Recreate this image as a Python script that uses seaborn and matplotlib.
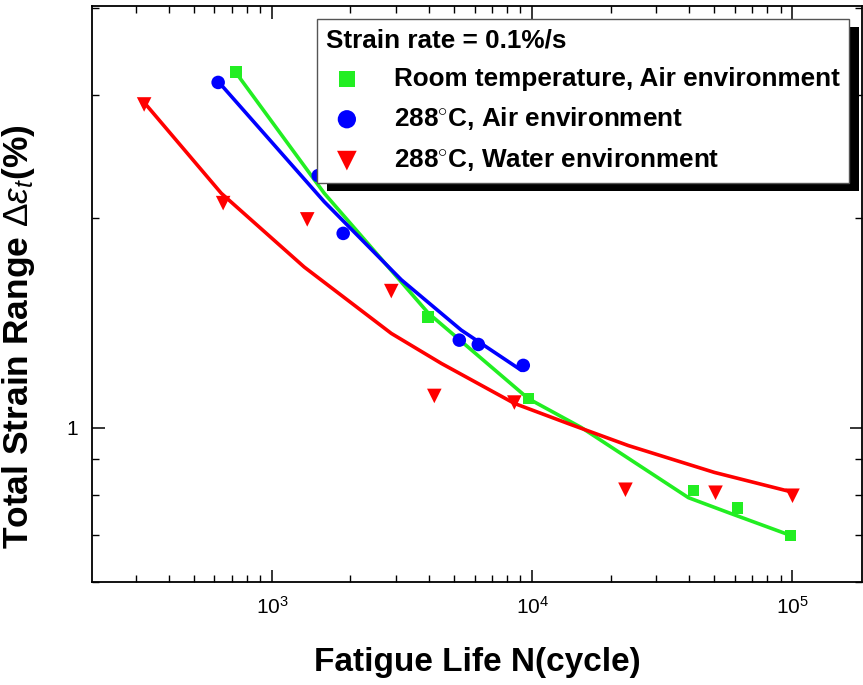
import matplotlib
matplotlib.use("Agg")
import matplotlib.pyplot as plt
import matplotlib.ticker as mticker
from matplotlib.patches import Rectangle
from matplotlib.transforms import IdentityTransform
import seaborn as sns

sns.set_style("ticks")
plt.rcParams['font.family'] = ['Liberation Sans', 'DejaVu Sans']
plt.rcParams['mathtext.fontset'] = 'custom'
plt.rcParams['mathtext.rm'] = 'Liberation Sans'
plt.rcParams['mathtext.it'] = 'Liberation Sans:italic'
plt.rcParams['mathtext.bf'] = 'Liberation Sans:bold'
plt.rcParams['text.color'] = 'black'
plt.rcParams['axes.labelcolor'] = 'black'
plt.rcParams['xtick.color'] = 'black'
plt.rcParams['ytick.color'] = 'black'

rt_air_n = [727, 3981, 9660, 41600, 61400, 98200]
rt_air_eps = [3.24, 1.44, 1.10, 0.812, 0.767, 0.70]

hot_air_n = [620, 1503, 1875, 5240, 6200, 9230]
hot_air_eps = [3.13, 2.30, 1.90, 1.335, 1.316, 1.228]

hot_water_n = [322, 648, 1364, 2870, 4200, 8530, 22800, 50600, 100000]
hot_water_eps = [2.91, 2.10, 1.99, 1.57, 1.11, 1.086, 0.814, 0.806, 0.798]

# fitted curves
rt_fit_n = [727, 1585, 3981, 9660, 15430, 39800, 58200, 98200]
rt_fit_eps = [3.23, 2.17, 1.46, 1.10, 1.00, 0.793, 0.752, 0.70]

air_fit_n = [625, 1585, 3135, 5330, 9080]
air_fit_eps = [3.13, 2.11, 1.63, 1.38, 1.208]

water_fit_n = [322, 637, 1328, 2870, 4470, 8530, 13750, 23400, 50100, 102000]
water_fit_eps = [2.93, 2.17, 1.70, 1.365, 1.236, 1.083, 1.013, 0.942, 0.862, 0.806]

labels = ['Room temperature, Air environment',
          '288$^{\\circ}$C, Air environment',
          '288$^{\\circ}$C, Water environment']
colors = ['#22ee22', '#0000ff', '#ff0000']
markers = ['s', 'o', 'v']
sizes = [70, 95, 110]

points = [(rt_air_n, rt_air_eps), (hot_air_n, hot_air_eps), (hot_water_n, hot_water_eps)]
fits = [(rt_fit_n, rt_fit_eps), (air_fit_n, air_fit_eps), (water_fit_n, water_fit_eps)]

fig = plt.figure(figsize=(8.63, 6.85), dpi=100)
ax = fig.add_axes([92 / 863, 103 / 685, 770 / 863, 576 / 685])

for (fn, fe), c in zip(fits, colors):
    sns.lineplot(x=fn, y=fe, ax=ax, color=c, linewidth=2.6, sort=False,
                 estimator=None, legend=False)

for (pn, pe), c, m, s, lab in zip(points, colors, markers, sizes, labels):
    sns.scatterplot(x=pn, y=pe, ax=ax, color=c, marker=m, s=s,
                    edgecolor='none', label=lab, zorder=3)

ax.set_xscale('log')
ax.set_yscale('log')
ax.set_xlim(203, 185000)
ax.set_ylim(0.6, 4.03)

ax.xaxis.set_major_locator(mticker.FixedLocator([1e3, 1e4, 1e5]))
ax.xaxis.set_minor_locator(mticker.LogLocator(base=10, subs=range(2, 10)))
ax.xaxis.set_minor_formatter(mticker.NullFormatter())
ax.yaxis.set_major_locator(mticker.FixedLocator([1]))
ax.yaxis.set_major_formatter(mticker.FormatStrFormatter('%g'))
ax.yaxis.set_minor_locator(mticker.LogLocator(base=10, subs=range(2, 10)))
ax.yaxis.set_minor_formatter(mticker.NullFormatter())

ax.tick_params(which='both', direction='in', top=True, right=True, colors='black')
ax.tick_params(which='major', length=9, width=1.1, labelsize=15, pad=10)
ax.tick_params(which='minor', length=5, width=1.0)
for sp in ax.spines.values():
    sp.set_linewidth(1.3)
    sp.set_color('black')

ax.set_xlabel('Fatigue Life N(cycle)', fontsize=24, fontweight='bold')
ax.set_ylabel('Total Strain Range $\\Delta\\varepsilon_{t}$(%)', fontsize=25.5,
              fontweight='bold')
ax.xaxis.set_label_coords(0.501, -0.113)
ax.yaxis.set_label_coords(-0.072, 0.425)

leg = ax.legend(loc='upper left', bbox_to_anchor=(0.292, 0.977), borderaxespad=0,
                title='Strain rate = 0.1%/s', alignment='left',
                prop={'weight': 'bold', 'size': 18.8},
                title_fontproperties={'weight': 'bold', 'size': 18.8},
                fancybox=False, framealpha=1, edgecolor='#555555',
                handletextpad=1.0, labelspacing=0.55, borderpad=0.35,
                handlelength=1.6, markerscale=1.35)
leg.get_frame().set_linewidth(1.0)
leg.set_zorder(6)

fig.canvas.draw()
bb = leg.get_frame().get_window_extent()
shadow = Rectangle((bb.x0 + 10, bb.y0 - 8), bb.width, bb.height,
                   transform=IdentityTransform(), facecolor='black',
                   edgecolor='none', zorder=5.5, clip_on=False)
ax.add_artist(shadow)

fig.savefig('out.png', dpi=100)
